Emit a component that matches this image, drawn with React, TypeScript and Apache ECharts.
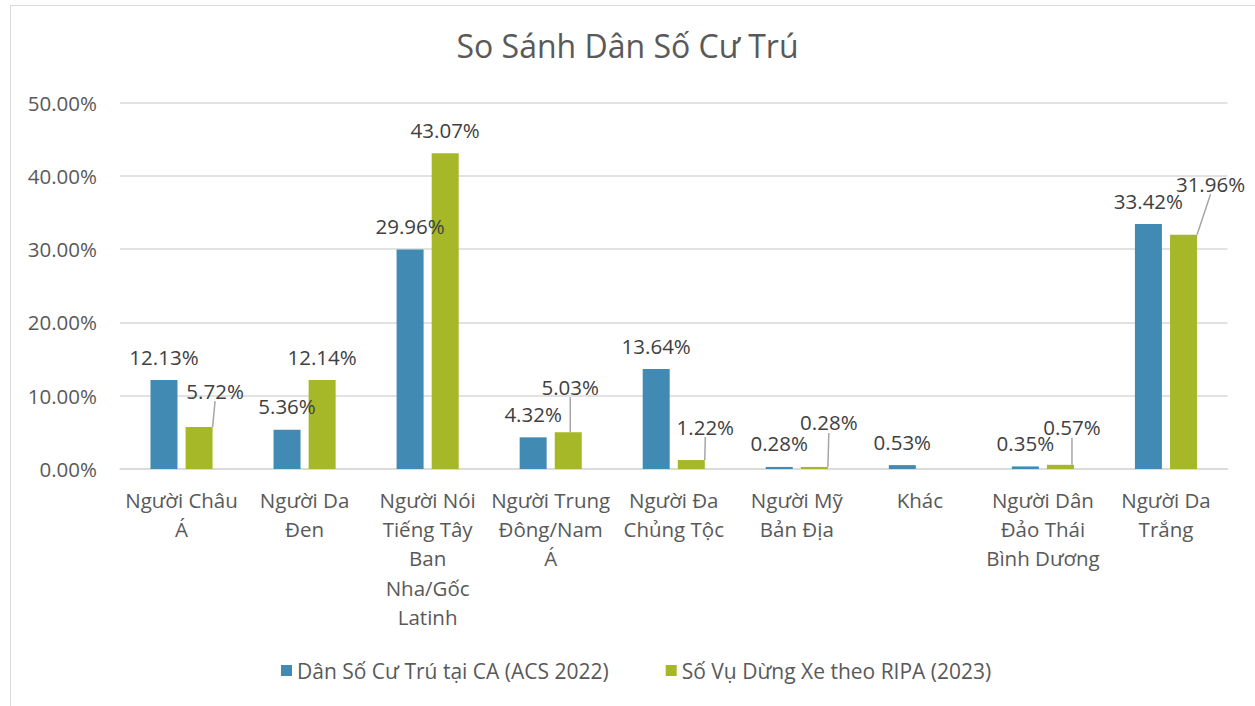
import React, { useEffect, useRef } from "react";
import * as echarts from "echarts";

const titleText = "So Sánh Dân Số Cư Trú";
const categories = [
  "Người Châu\nÁ",
  "Người Da\nĐen",
  "Người Nói\nTiếng Tây\nBan\nNha/Gốc\nLatinh",
  "Người Trung\nĐông/Nam\nÁ",
  "Người Đa\nChủng Tộc",
  "Người Mỹ\nBản Địa",
  "Khác",
  "Người Dân\nĐảo Thái\nBình Dương",
  "Người Da\nTrắng",
];
const seriesNames = ["Dân Số Cư Trú tại CA (ACS 2022)", "Số Vụ Dừng Xe theo RIPA (2023)"];
const residentPopulation = [12.13, 5.36, 29.96, 4.32, 13.64, 0.28, 0.53, 0.35, 33.42];
const ripaStops: (number | null)[] = [5.72, 12.14, 43.07, 5.03, 1.22, 0.28, null, 0.57, 31.96];
const yMin = 0;
const yMax = 50;
const yInterval = 10;

// label nudges (style, not data)
const ripaLabelShift: [number, number][] = [
  [16, -13], [0, 0], [0, 0], [2, -22], [14, -10], [14.5, -21], [0, 0], [11.5, -14], [27, -27.5],
];

const FONT = "'Open Sans', 'Noto Sans', sans-serif";
const BLUE = "#418AB3";
const GREEN = "#A6B727";

const fmt = (v: number) => v.toFixed(2) + "%";

export default function App() {
  const ref = useRef<HTMLDivElement>(null);
  useEffect(() => {
    if (!ref.current) return;
    const chart = echarts.init(ref.current, null, { renderer: "svg" });
    chart.setOption({
      animation: false,
      backgroundColor: "#ffffff",
      textStyle: { fontFamily: FONT },
      title: {
        text: titleText,
        left: "center",
        top: 29,
        padding: 0,
        textStyle: { fontFamily: FONT, fontSize: 32, fontWeight: "normal", color: "#595959" },
      },
      legend: {
        left: 281,
        top: 660,
        padding: 0,
        icon: "rect",
        itemWidth: 11,
        itemHeight: 11,
        itemGap: 57,
        data: seriesNames,
        textStyle: { fontFamily: FONT, fontSize: 21, color: "#595959" },
      },
      grid: { left: 120, right: 27.5, top: 102.5, bottom: 237, containLabel: false },
      xAxis: {
        type: "category",
        data: categories,
        axisLine: { lineStyle: { color: "#D9D9D9", width: 1.5 } },
        axisTick: { show: false },
        axisLabel: {
          interval: 0,
          margin: 16,
          fontFamily: FONT,
          fontSize: 20.5,
          lineHeight: 29.3,
          color: "#595959",
        },
      },
      yAxis: {
        type: "value",
        min: yMin,
        max: yMax,
        interval: yInterval,
        axisLine: { show: false },
        axisTick: { show: false },
        splitLine: { lineStyle: { color: "#D9D9D9", width: 1.5 } },
        axisLabel: {
          margin: 23,
          fontFamily: FONT,
          fontSize: 20.5,
          color: "#595959",
          formatter: (v: number) => fmt(v),
        },
      },
      series: [
        {
          name: seriesNames[0],
          type: "bar",
          barWidth: 27,
          barGap: "30%",
          itemStyle: { color: BLUE },
          data: residentPopulation,
          label: {
            show: true,
            position: "top",
            distance: 13,
            fontFamily: FONT,
            fontSize: 20.5,
            color: "#404040",
            formatter: (p: any) => fmt(p.value),
          },
        },
        {
          name: seriesNames[1],
          type: "bar",
          barWidth: 27,
          barGap: "30%",
          itemStyle: { color: GREEN },
          data: ripaStops.map((v, i) => ({
            value: v,
            labelLine: { show: ripaLabelShift[i][0] !== 0 || ripaLabelShift[i][1] !== 0 },
          })),
          label: {
            show: true,
            position: "top",
            distance: 13,
            fontFamily: FONT,
            fontSize: 20.5,
            color: "#404040",
            formatter: (p: any) => (p.value == null ? "" : fmt(p.value)),
          },
          labelLine: { show: true, lineStyle: { color: "#A6A6A6", width: 1.5 } },
          labelLayout: (p: any) => {
            const s = ripaLabelShift[p.dataIndex] || [0, 0];
            return { dx: s[0], dy: s[1] };
          },
        },
      ],
      graphic: [
        {
          type: "rect",
          shape: { x: 10.5, y: 5.5, width: 1400, height: 900 },
          style: { fill: "none", stroke: "#D9D9D9", lineWidth: 1 },
          silent: true,
        },
      ],
    });
    return () => chart.dispose();
  }, []);
  return (
    <div
      ref={ref}
      style={{ position: "fixed", left: 0, top: 0, width: 1255, height: 706, background: "#fff" }}
    />
  );
}
